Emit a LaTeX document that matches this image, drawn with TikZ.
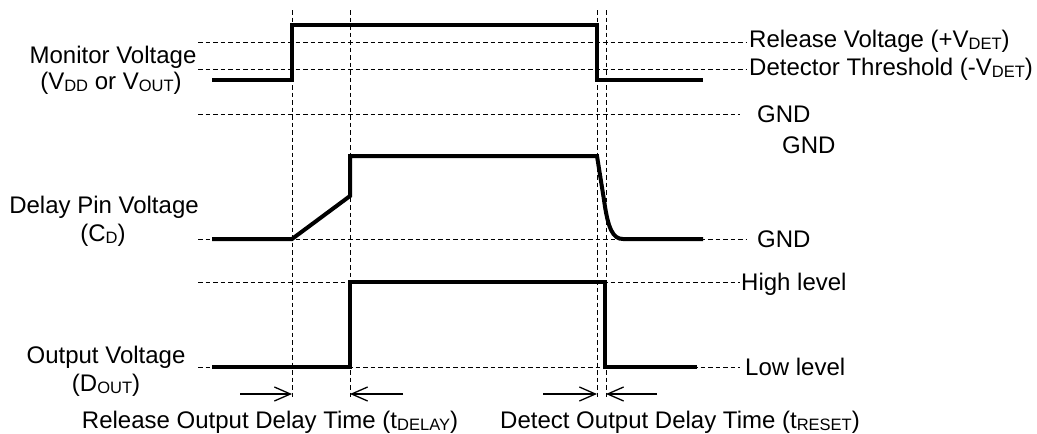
\documentclass[tikz,border=0pt]{standalone}
\usepackage{fontspec}
\setmainfont{Liberation Sans}
\usetikzlibrary{arrows.meta}
\newcommand{\sbs}[1]{\raisebox{-0.12em}{\fontsize{16.5}{16.5}\selectfont #1}}
\tikzset{
  lbl/.style={inner sep=0pt, font=\fontsize{24}{27}\selectfont},
  guide/.style={line width=1pt, dash pattern=on 4.5pt off 3pt},
  wave/.style={line width=4pt, line join=miter},
  dimarrow/.style={line width=1.3pt, -{Straight Barb[length=16pt,width=14pt,line width=1.3pt]}},
}
\begin{document}
\begin{tikzpicture}[x=1pt,y=-1pt]
\useasboundingbox (0,0) rectangle (1037,434);

% horizontal guide lines
\coordinate (rvL) at (198,42);   \coordinate (rvR) at (747,42);
\coordinate (dtL) at (198,69);   \coordinate (dtR) at (747,69);
\coordinate (g1L) at (198,114);  \coordinate (g1R) at (740,114);
\coordinate (g2L) at (198,239);  \coordinate (g2R) at (747,239);
\coordinate (hiL) at (198,282);  \coordinate (hiR) at (740,282);
\coordinate (loL) at (198,367);  \coordinate (loR) at (740,367);
\foreach \a/\b in {rvL/rvR,dtL/dtR,g1L/g1R,g2L/g2R,hiL/hiR,loL/loR}
  \draw[guide] (\a) -- (\b);

% vertical guide lines
\coordinate (v1T) at (292,10); \coordinate (v1B) at (292,400);
\coordinate (v2T) at (350,10); \coordinate (v2B) at (350,400);
\coordinate (v3T) at (597,10); \coordinate (v3B) at (597,400);
\coordinate (v4T) at (606,10); \coordinate (v4B) at (606,400);
\foreach \a/\b in {v1T/v1B,v2T/v2B,v3T/v3B,v4T/v4B}
  \draw[guide] (\a) -- (\b);

% waveforms
\draw[wave] (212,80) -- (292,80) -- (292,25) -- (597,25) -- (597,80) -- (703,80);
\draw[wave] (212,239) -- (292,239) -- (350,196) -- (350,156) -- (597,156)
  -- (604,200) .. controls (608,229) and (613,239) .. (623,239) -- (703,239);
\draw[wave] (212,367) -- (350,367) -- (350,282) -- (605,282) -- (605,367) -- (697,367);

% delay arrows
\coordinate (a1s) at (240,394); \coordinate (a1e) at (292,394);
\coordinate (a2s) at (403,394); \coordinate (a2e) at (350,394);
\coordinate (a3s) at (543,394); \coordinate (a3e) at (597,394);
\coordinate (a4s) at (657,394); \coordinate (a4e) at (606,394);
\draw[dimarrow] (a1s) -- (a1e);
\draw[dimarrow] (a2s) -- (a2e);
\draw[dimarrow] (a3s) -- (a3e);
\draw[dimarrow] (a4s) -- (a4e);

% left labels
\node[lbl, anchor=base] (mon1) at (113,63) {Monitor Voltage};
\node[lbl, anchor=base] (mon2) at (111,89) {(V\sbs{DD} or V\sbs{OUT})};
\node[lbl, anchor=base] (dly1) at (104,213) {Delay Pin Voltage};
\node[lbl, anchor=base] (dly2) at (103,241) {(C\sbs{D})};
\node[lbl, anchor=base] (out1) at (106,363) {Output Voltage};
\node[lbl, anchor=base] (out2) at (106,391) {(D\sbs{OUT})};

% right labels
\node[lbl, anchor=base west] (rv) at (749,47) {Release Voltage (+V\sbs{DET})};
\node[lbl, anchor=base west] (dt) at (749,75) {Detector Threshold (-V\sbs{DET})};
\node[lbl, anchor=base west] (gnd1) at (757,122) {GND};
\node[lbl, anchor=base west] (gnd2) at (782,153) {GND};
\node[lbl, anchor=base west] (gnd3) at (757,247) {GND};
\node[lbl, anchor=base west] (hi) at (741,290) {High level};
\node[lbl, anchor=base west] (lo) at (745,375) {Low level};

% bottom labels
\node[lbl, anchor=base] (tdelay) at (270,428) {Release Output Delay Time (t\sbs{DELAY})};
\node[lbl, anchor=base] (treset) at (680,428) {Detect Output Delay Time (t\sbs{RESET})};
\end{tikzpicture}
\end{document}
